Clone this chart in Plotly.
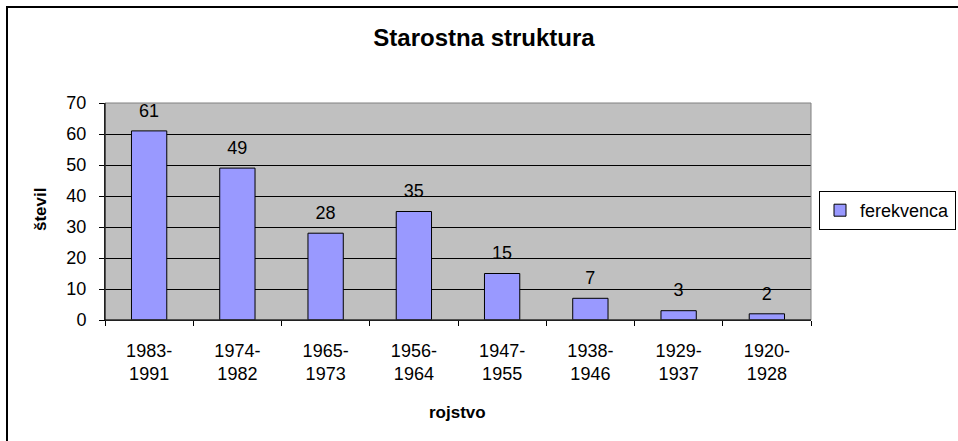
import plotly.graph_objects as go

# data
categories = ["1983-<br>1991", "1974-<br>1982", "1965-<br>1973", "1956-<br>1964",
              "1947-<br>1955", "1938-<br>1946", "1929-<br>1937", "1920-<br>1928"]
values = [61, 49, 28, 35, 15, 7, 3, 2]
series_name = "ferekvenca"

font = "Arial, Liberation Sans, sans-serif"

fig = go.Figure()
fig.add_trace(go.Bar(x=categories, y=values, name=series_name,
                     marker=dict(color="#9999FF", line=dict(color="black", width=1)),
                     showlegend=True))
# value labels floating above the bars
fig.add_trace(go.Scatter(x=categories, y=values, mode="markers+text", text=values,
                         textposition="top center", cliponaxis=False,
                         marker=dict(size=14, color="rgba(0,0,0,0)"),
                         textfont=dict(size=18, color="black", family=font),
                         showlegend=False, hoverinfo="skip"))

fig.update_layout(
    width=958, height=441,
    margin=dict(l=105, r=147, t=103, b=121, autoexpand=False),
    paper_bgcolor="white", plot_bgcolor="rgba(0,0,0,0)",
    font=dict(family=font, size=18, color="black"),
    bargap=0.6,
    title=dict(text="<b>Starostna struktura</b>", x=484 / 958, xref="container", xanchor="center",
               y=1 - 38 / 441, yref="container", yanchor="middle",
               font=dict(size=24, family=font)),
    showlegend=True,
    legend=dict(x=(819 - 105) / 706, y=(320 - 210.5) / 217, xanchor="left", yanchor="middle",
                bordercolor="black", borderwidth=1, bgcolor="white",
                font=dict(size=18, family=font), itemwidth=30),
)

fig.update_xaxes(showline=True, linecolor="black", linewidth=1,
                 ticks="outside", tickson="boundaries", ticklen=5, tickcolor="black",
                 ticklabelstandoff=14, showgrid=False, tickfont=dict(size=18))
fig.update_yaxes(range=[0, 70], dtick=10, showline=True, linecolor="black", linewidth=1,
                 ticks="outside", ticklen=5, tickcolor="black", ticklabelstandoff=9,
                 showgrid=True, gridcolor="black", gridwidth=1, zeroline=False,
                 tickfont=dict(size=18))

# gray plot area with gray top/right border, chart frame
fig.add_shape(type="rect", xref="paper", yref="paper", x0=0, x1=1, y0=0, y1=1,
              fillcolor="#C0C0C0", line=dict(width=0), layer="below")
fig.add_shape(type="rect", xref="paper", yref="paper", x0=0, x1=1, y0=0, y1=1,
              line=dict(color="#808080", width=1), layer="above")
fig.add_shape(type="line", xref="paper", yref="paper", x0=0, x1=0, y0=0, y1=1,
              line=dict(color="black", width=1), layer="above")
fig.add_shape(type="line", xref="paper", yref="paper", x0=0, x1=1, y0=0, y1=0,
              line=dict(color="black", width=1), layer="above")
fig.add_shape(type="rect", xref="paper", yref="paper",
              x0=(7 - 105) / 706, x1=1.5, y0=-0.7, y1=(320 - 7) / 217,
              line=dict(color="black", width=2), layer="above")

# axis titles
fig.add_annotation(text="<b>števil</b>", xref="paper", yref="paper",
                   x=(40 - 105) / 706, y=(320 - 210) / 217, textangle=-90, showarrow=False,
                   xanchor="center", yanchor="middle",
                   font=dict(size=17, family=font))
fig.add_annotation(text="<b>rojstvo</b>", xref="paper", yref="paper",
                   x=(457 - 105) / 706, y=(320 - 412) / 217, showarrow=False,
                   xanchor="center", yanchor="middle",
                   font=dict(size=17, family=font))

fig.write_html("out.html", config={"displayModeBar": False},
               post_script="document.body.style.margin='0';")
